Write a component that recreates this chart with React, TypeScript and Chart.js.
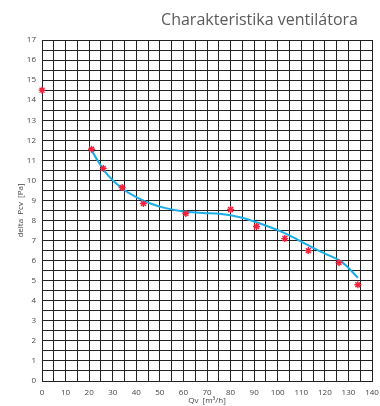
import React, { useEffect, useRef } from "react";
import { Chart, registerables } from "chart.js";

Chart.register(...registerables);

const chartTitle = "Charakteristika ventilátora";
const xTitle = "Qv  [m³/h]";
const yTitle = "delta  Pcv  [Pa]";

const measuredX = [0, 21, 26, 34, 43, 61, 80, 91, 103, 113, 126, 134];
const measuredY = [14.5, 11.55, 10.6, 9.65, 8.85, 8.35, 8.55, 7.7, 7.1, 6.5, 5.9, 4.8];

const curveX = [21, 24, 28, 34, 40, 46, 52, 60, 68, 76, 84, 90, 96, 102, 108, 114, 120, 127, 134];
const curveY = [11.5, 10.92, 10.25, 9.6, 9.17, 8.85, 8.63, 8.45, 8.38, 8.32, 8.16, 7.95, 7.7, 7.42, 7.07, 6.7, 6.35, 5.95, 5.15];

const xMin = 0, xMax = 140, xStep = 5, xLabelEvery = 10;
const yMin = 0, yMax = 17, yStep = 0.5, yLabelEvery = 1;

const FONT = "'Open Sans', 'DejaVu Sans', sans-serif";

const titlePlugin = {
  id: "rightTitle",
  afterDraw(chart: any) {
    const { ctx, chartArea } = chart;
    ctx.save();
    ctx.font = `16px ${FONT}`;
    ctx.fillStyle = "#5a5a5a";
    ctx.textAlign = "right";
    ctx.textBaseline = "middle";
    ctx.fillText(chartTitle, chartArea.right - 14, 20);
    ctx.restore();
  },
};

export default function App() {
  const ref = useRef<HTMLCanvasElement>(null);
  useEffect(() => {
    const canvas = ref.current!;
    const chart = new Chart(canvas, {
      type: "scatter",
      data: {
        datasets: [
          {
            label: "measured",
            data: measuredX.map((x, i) => ({ x, y: measuredY[i] })),
            showLine: false,
            pointStyle: "star",
            pointRadius: 3.5,
            pointBorderWidth: 1.4,
            pointBorderColor: "#f5203a",
            pointBackgroundColor: "#f5203a",
            clip: false,
          } as any,
          {
            label: "curve",
            data: curveX.map((x, i) => ({ x, y: curveY[i] })),
            showLine: true,
            pointRadius: 0,
            borderColor: "#1aaee8",
            borderWidth: 2,
            tension: 0.4,
            clip: false,
          } as any,
        ],
      },
      options: {
        animation: false,
        responsive: false,
        maintainAspectRatio: false,
        layout: { padding: { top: 40, left: 0, right: 0, bottom: 0 } },
        plugins: {
          legend: { display: false },
          tooltip: { enabled: false },
          title: { display: false },
        },
        scales: {
          x: {
            type: "linear",
            min: xMin,
            max: xMax,
            grid: { color: "#222", lineWidth: 1, drawTicks: false },
            border: { color: "#222", width: 1 },
            ticks: {
              stepSize: xStep,
              autoSkip: false,
              maxRotation: 0,
              padding: 7,
              color: "#444",
              font: { family: FONT, size: 8 },
              callback: (v: any) => (Number(v) % xLabelEvery === 0 ? String(v) : ""),
            },
            title: {
              display: true,
              text: xTitle,
              color: "#444",
              font: { family: FONT, size: 8 },
              padding: { top: 0, bottom: 0 },
            },
            afterFit: (s: any) => {
              s.height = 25;
              s.paddingRight = 8;
              s.paddingLeft = 0;
            },
          },
          y: {
            type: "linear",
            min: yMin,
            max: yMax,
            grid: { color: "#222", lineWidth: 1, drawTicks: false },
            border: { color: "#222", width: 1 },
            ticks: {
              stepSize: yStep,
              autoSkip: false,
              padding: 6,
              color: "#444",
              font: { family: FONT, size: 8 },
              callback: (v: any) => (Number(v) % yLabelEvery === 0 ? String(v) : ""),
            },
            title: {
              display: true,
              text: yTitle,
              color: "#444",
              font: { family: FONT, size: 8 },
              padding: { top: 16, bottom: 0 },
            },
            afterFit: (s: any) => {
              s.width = 42;
              s.paddingTop = 0;
              s.paddingBottom = 0;
            },
          },
        },
      },
      plugins: [titlePlugin],
    });
    return () => chart.destroy();
  }, []);
  return (
    <div style={{ position: "fixed", left: 0, top: 0, width: 380, height: 406, background: "#fff" }}>
      <canvas ref={ref} width={380} height={406} style={{ display: "block", width: 380, height: 406 }} />
    </div>
  );
}
